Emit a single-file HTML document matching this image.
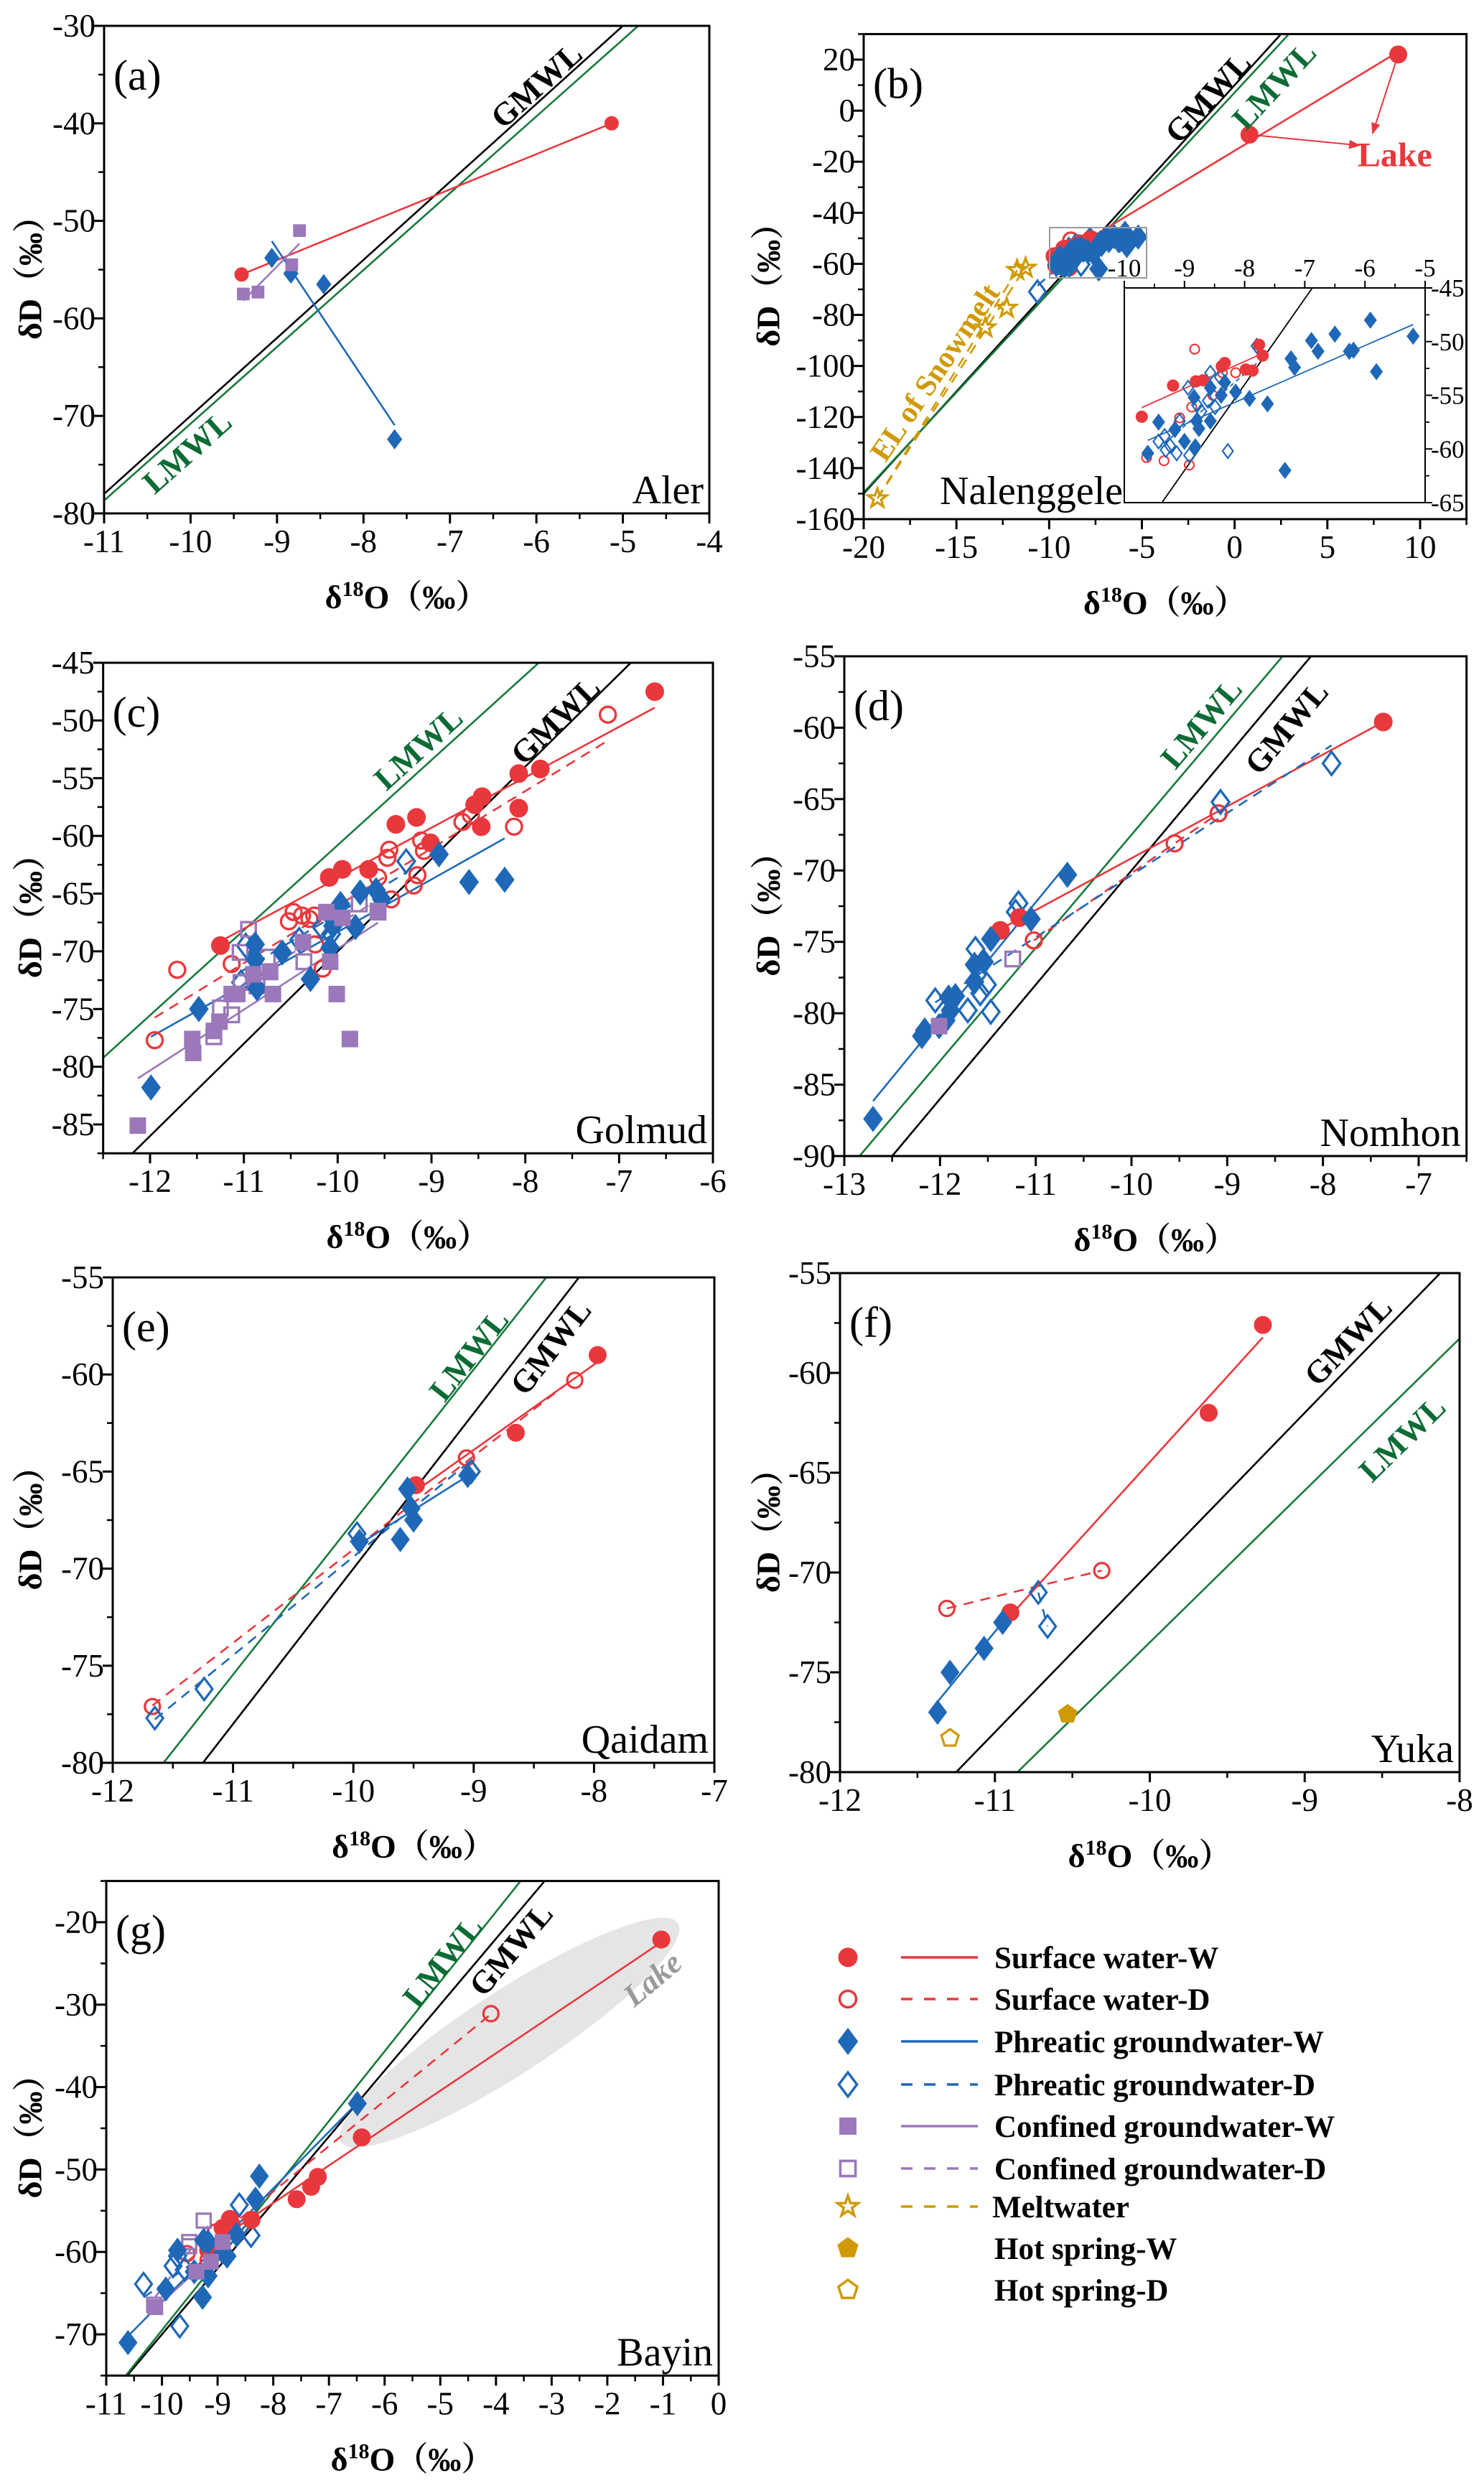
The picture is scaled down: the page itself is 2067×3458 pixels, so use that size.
<!DOCTYPE html>
<html><head><meta charset="utf-8"><title>δD vs δ18O plots</title>
<style>
html,body{margin:0;padding:0;background:#fff;}
svg{display:block;font-family:"Liberation Serif","Noto Serif CJK SC",serif;}
</style></head>
<body>
<svg id="fig" xmlns="http://www.w3.org/2000/svg" width="2067" height="3458" viewBox="0 0 2067 3458">
<defs>
<marker id="arrowRed" viewBox="0 0 10 10" refX="9" refY="5" markerWidth="8" markerHeight="8" orient="auto"><path d="M0,1 L10,5 L0,9 z" fill="#e8383d"/></marker>
</defs>
<rect x="0" y="0" width="2067" height="3458" fill="#fff"/>
</svg>
<script>
// ===================== DATA =====================
const aSurfW=[[-9.41,-55.5],[-5.13,-40.0]];
const aPhrW=[[-9.06,-53.8],[-8.84,-55.4],[-8.46,-56.5],[-7.64,-72.4]];
const aConW=[[-9.39,-57.5],[-9.22,-57.3],[-8.83,-54.5],[-8.74,-51.0]];
const bSurfW=[[-9.71,-57.0],[-9.19,-54.1],[-8.81,-53.7],[-8.38,-52.3],[-8.33,-52.0],[-7.98,-52.6],[-7.87,-52.7],[-7.76,-50.3],[-7.70,-51.3],[-8.69,-53.6],[0.8,-9.4],[8.82,22.0]];
const bSurfD=[[-8.83,-50.7],[-9.63,-60.8],[-9.34,-61.1],[-8.92,-61.5],[-8.15,-52.9],[-8.37,-52.9],[-9.08,-57.1],[-8.88,-56.1],[-8.53,-55.0]];
const bPhrW=[[-9.61,-60.4],[-9.43,-57.5],[-9.16,-58.2],[-9.0,-59.3],[-8.82,-59.8],[-8.80,-57.4],[-8.84,-55.2],[-8.57,-54.3],[-8.39,-55.0],[-8.57,-57.4],[-8.76,-58.1],[-8.15,-54.7],[-7.92,-55.3],[-7.62,-55.8],[-7.23,-51.6],[-7.17,-52.4],[-6.89,-49.9],[-6.78,-50.9],[-6.50,-49.3],[-6.26,-50.9],[-6.19,-50.8],[-5.91,-48.0],[-5.81,-52.8],[-5.20,-49.5],[-7.33,-62.0],[-8.33,-53.8]];
const bPhrD=[[-9.33,-58.8],[-9.43,-59.3],[-9.24,-59.7],[-9.13,-60.4],[-8.92,-60.6],[-8.94,-54.3],[-9.08,-57.4],[-8.79,-55.9],[-8.57,-52.9],[-8.41,-53.3],[-8.28,-60.2],[-7.80,-50.4],[-8.49,-56.1],[-8.72,-56.5],[-9.31,-60.1],[-8.61,-55.5],[-10.63,-70.9]];
const bMelt=[[-19.26,-151.9],[-13.44,-85.0],[-12.29,-77.3],[-11.73,-62.5],[-11.27,-61.6]];
const cSurfW=[[-11.25,-69.5],[-10.09,-63.6],[-9.95,-62.9],[-9.67,-62.9],[-9.38,-59.0],[-9.16,-58.4],[-9.01,-60.6],[-8.54,-57.3],[-8.46,-56.6],[-8.47,-59.2],[-8.07,-54.6],[-7.84,-54.2],[-8.07,-57.6],[-6.62,-47.5]];
const cSurfD=[[-11.71,-71.6],[-11.95,-77.7],[-11.13,-71.1],[-10.52,-67.4],[-10.47,-66.6],[-10.38,-66.9],[-10.30,-67.2],[-10.25,-66.9],[-10.24,-69.4],[-10.16,-71.5],[-9.57,-63.6],[-9.47,-61.9],[-9.45,-61.2],[-9.43,-65.5],[-9.19,-64.3],[-9.15,-63.4],[-9.11,-60.4],[-9.08,-61.3],[-8.67,-58.8],[-8.58,-58.2],[-8.12,-59.2],[-7.12,-49.5]];
const cPhrW=[[-11.99,-81.8],[-11.48,-75.0],[-10.88,-69.4],[-10.86,-73.2],[-10.88,-70.7],[-10.59,-70.1],[-10.29,-72.4],[-10.08,-69.7],[-10.05,-67.8],[-9.97,-65.9],[-9.81,-67.9],[-9.76,-64.9],[-9.59,-64.7],[-9.53,-65.5],[-8.92,-61.6],[-8.60,-64.0],[-8.22,-63.8]];
const cPhrD=[[-10.98,-69.5],[-10.41,-69.0],[-10.17,-67.9],[-9.27,-62.2],[-10.07,-68.5],[-11.03,-72.7]];
const cConW=[[-12.13,-85.1],[-11.55,-77.6],[-11.54,-78.8],[-11.32,-76.9],[-11.26,-76.1],[-11.13,-73.7],[-11.07,-73.7],[-10.90,-72.0],[-10.72,-71.8],[-10.69,-73.7],[-10.37,-69.2],[-10.12,-66.6],[-10.08,-70.9],[-10.01,-73.7],[-9.95,-67.1],[-9.87,-77.6],[-9.57,-66.5]];
const cConD=[[-10.95,-68.1],[-11.04,-70.1],[-11.32,-77.4],[-11.13,-75.5],[-11.03,-72.7],[-10.86,-73.0],[-10.75,-70.5],[-10.36,-70.9],[-9.77,-65.9],[-9.57,-66.6],[-11.25,-74.9]];
const dSurfW=[[-11.37,-74.2],[-11.17,-73.3],[-7.37,-59.6]];
const dSurfD=[[-11.02,-74.9],[-9.55,-68.1],[-9.09,-66.0]];
const dPhrW=[[-12.70,-87.4],[-12.19,-81.6],[-12.16,-81.2],[-11.91,-78.9],[-11.84,-78.8],[-11.89,-79.8],[-11.94,-80.5],[-11.64,-77.8],[-11.64,-76.6],[-11.54,-76.4],[-11.47,-74.8],[-11.05,-73.4],[-10.67,-70.3],[-12.01,-80.9]];
const dPhrD=[[-12.05,-79.1],[-11.63,-75.5],[-11.71,-79.8],[-11.58,-78.6],[-11.51,-78.0],[-11.47,-79.9],[-11.18,-72.3],[-11.21,-72.9],[-9.07,-65.2],[-7.91,-62.5]];
const dConW=[[-12.01,-80.9]];
const dConD=[[-11.24,-76.2]];
const eSurfW=[[-9.48,-65.7],[-8.65,-63.0],[-7.97,-59.0]];
const eSurfD=[[-11.67,-77.1],[-9.06,-64.3],[-8.16,-60.3]];
const ePhrW=[[-9.95,-68.6],[-9.61,-68.5],[-9.55,-65.9],[-9.52,-66.9],[-9.50,-67.5],[-9.05,-65.2]];
const ePhrD=[[-11.65,-77.7],[-11.24,-76.2],[-9.97,-68.2],[-9.02,-65.0]];
const fSurfW=[[-10.90,-72.0],[-9.62,-62.0],[-9.27,-57.6]];
const fSurfD=[[-11.31,-71.8],[-10.31,-69.9]];
const fPhrW=[[-11.37,-77.0],[-11.29,-75.0],[-11.07,-73.8],[-10.95,-72.5]];
const fPhrD=[[-10.72,-71.0],[-10.66,-72.7]];
const fHotW=[[-10.53,-77.1]];
const fHotD=[[-11.29,-78.3]];
const gSurfW=[[-1.03,-22.1],[-6.41,-46.1],[-7.2,-50.9],[-7.32,-52.1],[-7.58,-53.6],[-8.39,-56.1],[-8.78,-56.0],[-8.91,-57.1],[-9.17,-59.8]];
const gSurfD=[[-4.09,-31.1],[-9.04,-57.6],[-8.74,-56.7],[-9.55,-60.2],[-9.17,-61.0]];
const gPhrW=[[-6.49,-42.0],[-8.25,-50.8],[-8.32,-53.6],[-10.61,-71.0],[-9.93,-64.5],[-9.72,-59.8],[-9.27,-65.5],[-9.17,-62.9],[-8.83,-60.5],[-8.91,-60.0],[-9.17,-58.8],[-8.66,-57.9],[-9.42,-62.4],[-9.25,-58.6]];
const gPhrD=[[-10.33,-63.9],[-9.80,-61.7],[-9.72,-60.5],[-9.59,-62.1],[-9.68,-69.0],[-8.61,-54.3],[-8.40,-58.0]];
const gConW=[[-10.12,-66.7],[-9.38,-62.4],[-8.91,-58.8],[-9.12,-61.2]];
const gConD=[[-9.25,-56.2],[-9.51,-58.8],[-9.51,-59.3],[-9.17,-59.3],[-10.14,-66.4]];
const gmwl=[8,10];
const lmwlSlope=[7.88,7.83,7.37,7.92,7.86,7.61,8.46];
const lmwlIntercept=[8.0,7.1,12.9,11.7,11.0,2.6,15.1];
const aXT=[-11,-10,-9,-8,-7,-6,-5,-4], aYT=[-80,-70,-60,-50,-40,-30];
const bXT=[-20,-15,-10,-5,0,5,10], bYT=[-160,-140,-120,-100,-80,-60,-40,-20,0,20];
const cXT=[-12,-11,-10,-9,-8,-7,-6], cYT=[-85,-80,-75,-70,-65,-60,-55,-50,-45];
const dXT=[-13,-12,-11,-10,-9,-8,-7], dYT=[-90,-85,-80,-75,-70,-65,-60,-55];
const eXT=[-12,-11,-10,-9,-8,-7], eYT=[-80,-75,-70,-65,-60,-55];
const fXT=[-12,-11,-10,-9,-8], fYT=[-80,-75,-70,-65,-60,-55];
const gXT=[-11,-10,-9,-8,-7,-6,-5,-4,-3,-2,-1,0], gYT=[-70,-60,-50,-40,-30,-20];
const insXT=[-10,-9,-8,-7,-6,-5], insYT=[-65,-60,-55,-50,-45];
const legendLabels=["Surface water-W","Surface water-D","Phreatic groundwater-W","Phreatic groundwater-D","Confined groundwater-W","Confined groundwater-D","Meltwater","Hot spring-W","Hot spring-D"];
const legendKinds=["surfW","surfD","phrW","phrD","conW","conD","melt","hotW","hotD"];

// ===================== RENDERING =====================
const NS="http://www.w3.org/2000/svg";
const svg=document.getElementById("fig");
const RED="#e8383d",BLUE="#1f68b8",PURP="#9a78b9",GOLD="#cf9a05",GREEN="#167a3c",GREENT="#0d6b35";
const STY={
 surfW:{shape:"circle",fill:true,color:RED,dash:false},
 surfD:{shape:"circle",fill:false,color:RED,dash:true},
 phrW:{shape:"diamond",fill:true,color:BLUE,dash:false},
 phrD:{shape:"diamond",fill:false,color:BLUE,dash:true},
 conW:{shape:"square",fill:true,color:PURP,dash:false},
 conD:{shape:"square",fill:false,color:PURP,dash:true},
 melt:{shape:"star",fill:false,color:GOLD,dash:true},
 hotW:{shape:"pent",fill:true,color:GOLD,dash:false},
 hotD:{shape:"pent",fill:false,color:GOLD,dash:false}
};
function mk(tag,parent){const e=document.createElementNS(NS,tag);parent.appendChild(e);return e;}
function at(e,o){for(const k in o)e.setAttribute(k,o[k]);return e;}
let clipId=0;
function setup(p){
 const sx=(p.xb[1]-p.xa[1])/(p.xb[0]-p.xa[0]);
 const sy=(p.yb[1]-p.ya[1])/(p.yb[0]-p.ya[0]);
 p.sx=sx;p.sy=sy;
 p.X=v=>p.xa[1]+(v-p.xa[0])*sx;
 p.Y=v=>p.ya[1]+(v-p.ya[0])*sy;
 p.L=p.X(p.xr[0]);p.R=p.X(p.xr[1]);p.T=p.Y(p.yr[1]);p.B=p.Y(p.yr[0]);
}
function shapePath(shape,cx,cy,s){
 if(shape==="diamond"){const w=s*1.05,h=s*1.4;return `M${cx},${cy-h}L${cx+w},${cy}L${cx},${cy+h}L${cx-w},${cy}Z`;}
 if(shape==="square"){const h=s*0.88;return `M${cx-h},${cy-h}H${cx+h}V${cy+h}H${cx-h}Z`;}
 if(shape==="star"){let d="";for(let i=0;i<10;i++){const r=i%2?s*0.5:s*1.25;const a=-Math.PI/2+i*Math.PI/5;d+=(i?"L":"M")+(cx+r*Math.cos(a)).toFixed(1)+","+(cy+r*Math.sin(a)).toFixed(1);}return d+"Z";}
 if(shape==="pent"){let d="";for(let i=0;i<5;i++){const a=-Math.PI/2+i*2*Math.PI/5;d+=(i?"L":"M")+(cx+s*1.15*Math.cos(a)).toFixed(1)+","+(cy+s*1.15*Math.sin(a)).toFixed(1);}return d+"Z";}
 return null;
}
function marker(parent,kind,cx,cy,s){
 const st=STY[kind];let e;
 if(st.shape==="circle"){e=mk("circle",parent);at(e,{cx:cx,cy:cy,r:st.fill?s:s-1.5});}
 else{e=mk("path",parent);at(e,{d:shapePath(st.shape,cx,cy,st.fill?s:s-1)});}
 if(st.fill) at(e,{fill:st.color,stroke:st.color,"stroke-width":1});
 else at(e,{fill:"none",stroke:st.color,"stroke-width":Math.max(2,s*0.27)});
 return e;
}
function fitLine(pts){
 const n=pts.length;let mx=0,my=0;pts.forEach(p=>{mx+=p[0];my+=p[1];});mx/=n;my/=n;
 let sxy=0,sxx=0;pts.forEach(p=>{sxy+=(p[0]-mx)*(p[1]-my);sxx+=(p[0]-mx)*(p[0]-mx);});
 const m=sxx?sxy/sxx:0;return [m,my-m*mx];
}
function clipFor(p,parent){
 const id="clip"+(clipId++);
 const cp=mk("clipPath",parent);at(cp,{id:id});
 const r=mk("rect",cp);at(r,{x:p.L,y:p.T,width:p.R-p.L,height:p.B-p.T});
 return id;
}
function txt(parent,x,y,s,o){const t=mk("text",parent);at(t,{x:x,y:y});t.textContent=s;if(o)at(t,o);return t;}
function drawContent(p,g,series,idx,msize,opts){
 opts=opts||{};
 const cid=clipFor(p,g);
 const cg=mk("g",g);at(cg,{"clip-path":`url(#${cid})`});
 
 
 if(p.ellipse){
  const el=mk("ellipse",cg);
  const c=[p.X(p.ellipse[0]),p.Y(p.ellipse[1])];
  at(el,{cx:c[0],cy:c[1],rx:p.ellipse[2],ry:p.ellipse[3],fill:"#e5e5e5",transform:`rotate(${p.ellipse[4]},${c[0]},${c[1]})`});
  
  
 }
 const lines=[["gmwl",gmwl[0],gmwl[1],"#000"]];
 if(!opts.noLMWL) lines.push(["lmwl",lmwlSlope[idx],lmwlIntercept[idx],GREEN]);
 lines.forEach(l=>{
  const x1=p.xr[0]-2,x2=p.xr[1]+2;
  const ln=mk("line",cg);
  at(ln,{x1:p.X(x1),y1:p.Y(l[1]*x1+l[2]),x2:p.X(x2),y2:p.Y(l[1]*x2+l[2]),stroke:l[3],"stroke-width":opts.thin?1.8:2.6});
  
  
 });
 series.forEach(s=>{
  let pts=s.data;
  if(opts.inRange) pts=pts.filter(q=>q[0]>=p.xr[0]&&q[0]<=p.xr[1]&&q[1]>=p.yr[0]&&q[1]<=p.yr[1]);
  if(s.fit===false||pts.length<2) return;
  const f=fitLine(pts);
  let xs=pts.map(q=>q[0]);const x1=Math.min(...xs),x2=Math.max(...xs);
  const st=STY[s.kind];
  const ln=mk("line",cg);
  at(ln,{x1:p.X(x1),y1:p.Y(f[0]*x1+f[1]),x2:p.X(x2),y2:p.Y(f[0]*x2+f[1]),stroke:st.color,"stroke-width":opts.thin?1.8:2.6});
  if(st.dash) at(ln,{"stroke-dasharray":opts.thin?"6,5":"14,10"});
  
  
 });
 if(p.id==="panel-b"){
  const a=bMelt[0],b=bMelt[3];
  const ln=mk("line",cg);
  at(ln,{x1:p.X(a[0]),y1:p.Y(a[1]),x2:p.X(b[0]),y2:p.Y(b[1]),stroke:GOLD,"stroke-width":2.6,"stroke-dasharray":"14,10"});
  
  
 }
 const order=series.slice().sort((a,b)=>(STY[a.kind].fill?1:0)-(STY[b.kind].fill?1:0));
 order.forEach(s=>{
  const mg=mk("g",cg);
  
  
  s.data.forEach(q=>{
   const m=marker(mg,s.kind,p.X(q[0]),p.Y(q[1]),msize);
   
   
  });
 });
 return cg;
}
function minors(ticks,lo,hi){
 const st=ticks[1]-ticks[0];const out=[];
 ticks.forEach(t=>{[t-st/2,t+st/2].forEach(m=>{if(m>=lo-1e-9&&m<=hi+1e-9&&!out.includes(m)&&!ticks.includes(m))out.push(m);});});
 return out;
}
function drawAxes(p,g,xt,yt){
 const frame=mk("rect",g);
 at(frame,{x:p.L,y:p.T,width:p.R-p.L,height:p.B-p.T,fill:"none",stroke:"#000","stroke-width":3});
 
 
 const ax=mk("g",g);
 
 
 xt.forEach(t=>{
  const x=p.X(t);
  at(mk("line",ax),{x1:x,y1:p.B,x2:x,y2:p.B+14,stroke:"#000","stroke-width":3});
  const lb=txt(ax,x,p.B+54,String(t),{"text-anchor":"middle","font-size":45});
  
  
 });
 minors(xt,p.xr[0],p.xr[1]).forEach(t=>{const x=p.X(t);at(mk("line",ax),{x1:x,y1:p.B,x2:x,y2:p.B+8,stroke:"#000","stroke-width":2.5});});
 const ay=mk("g",g);
 
 
 yt.forEach(t=>{
  const y=p.Y(t);
  at(mk("line",ay),{x1:p.L-14,y1:y,x2:p.L,y2:y,stroke:"#000","stroke-width":3});
  const lb=txt(ay,p.L-12,y+15,String(t),{"text-anchor":"end","font-size":45});
  
  
 });
 minors(yt,p.yr[0],p.yr[1]).forEach(t=>{const y=p.Y(t);at(mk("line",ay),{x1:p.L-8,y1:y,x2:p.L,y2:y,stroke:"#000","stroke-width":2.5});});
 const xtl=mk("text",g);
 at(xtl,{x:(p.L+p.R)/2,y:p.B+132,"text-anchor":"middle","font-size":46,"font-weight":"bold"});
 const t1=mk("tspan",xtl);t1.textContent="δ";
 const t2=mk("tspan",xtl);at(t2,{dy:-17,"font-size":30});t2.textContent="18";
 const t3=mk("tspan",xtl);at(t3,{dy:17});t3.textContent="O（‰）";
 
 
 const yc=(p.T+p.B)/2;
 const ytl=txt(g,p.ytx,yc,"δD（‰）",{"text-anchor":"middle","font-size":46,"font-weight":"bold",transform:`rotate(-90,${p.ytx},${yc})`,"dominant-baseline":"central"});
 
 
}
function drawLabels(p,g,idx){
 const lt=txt(g,p.L+13,p.T+89,p.letter,{"font-size":60});
 
 
 const st=p.siteXY?txt(g,p.siteXY[0],p.siteXY[1],p.site,{"font-size":56,"text-anchor":"end"}):txt(g,p.R-8,p.B-14,p.site,{"font-size":56,"text-anchor":"end"});
 
 
 const mw=[["GMWL",gmwl[0],p.gm,"#000"],["LMWL",lmwlSlope[idx],p.lm,GREENT]];
 mw.forEach(m=>{
  const ang=-Math.atan(m[1]*(-p.sy)/p.sx)*180/Math.PI;
  const x=p.X(m[2][0]),y=p.Y(m[2][1]);
  const t=txt(g,x,y,m[0],{"text-anchor":"middle","dominant-baseline":"central","font-size":45,"font-weight":"bold",fill:m[3],transform:`rotate(${ang},${x},${y})`});
  
  
 });
}
const panels=[
 {id:"panel-a",letter:"(a)",site:"Aler",xa:[-11,145],xb:[-4,988],ya:[-30,36],yb:[-80,715],xr:[-11,-4],yr:[-80,-30],ytx:42,gm:[-6.0,-36.1],lm:[-10.04,-73.7],ms:9.5,
  series:[{data:aSurfW,kind:"surfW"},{data:aPhrW,kind:"phrW"},{data:aConW,kind:"conW"}],xt:aXT,yt:aYT},
 {id:"panel-b",letter:"(b)",site:"Nalenggele",siteXY:[1564,702],xa:[-20,1203],xb:[10,1978],ya:[20,83],yb:[-160,723],xr:[-20,12.5],yr:[-160,30],ytx:1070,gm:[-1.44,5.2],lm:[2.13,9.8],ms:12,
  series:[{data:bSurfW,kind:"surfW"},{data:bSurfD,kind:"surfD",fit:false},{data:bPhrW,kind:"phrW"},{data:bPhrD,kind:"phrD"},{data:bMelt,kind:"melt"}],xt:bXT,yt:bYT},
 {id:"panel-c",letter:"(c)",site:"Golmud",xa:[-12,209],xb:[-6,993],ya:[-45,923],yb:[-85,1566],xr:[-12.5,-6],yr:[-87.5,-45],ytx:42,gm:[-7.68,-50.0],lm:[-9.14,-52.4],ms:12.5,
  series:[{data:cSurfW,kind:"surfW"},{data:cSurfD,kind:"surfD"},{data:cPhrW,kind:"phrW"},{data:cPhrD,kind:"phrD"},{data:cConW,kind:"conW"},{data:cConD,kind:"conD"}],xt:cXT,yt:cYT},
 {id:"panel-d",letter:"(d)",site:"Nomhon",xa:[-13,1176],xb:[-7,1976],ya:[-55,914],yb:[-90,1610],xr:[-13,-6.5],yr:[-90,-55],ytx:1070,gm:[-8.38,-60.0],lm:[-9.27,-59.7],ms:12.5,
  series:[{data:dSurfW,kind:"surfW"},{data:dSurfD,kind:"surfD"},{data:dPhrW,kind:"phrW"},{data:dPhrD,kind:"phrD"},{data:dConW,kind:"conW",fit:false},{data:dConD,kind:"conD",fit:false}],xt:dXT,yt:dYT},
 {id:"panel-e",letter:"(e)",site:"Qaidam",xa:[-12,157],xb:[-7,995],ya:[-55,1779],yb:[-80,2455],xr:[-12,-7],yr:[-80,-55],ytx:42,gm:[-8.36,-58.6],lm:[-9.04,-59.0],ms:12,
  series:[{data:eSurfW,kind:"surfW"},{data:eSurfD,kind:"surfD"},{data:ePhrW,kind:"phrW"},{data:ePhrD,kind:"phrD"}],xt:eXT,yt:eYT},
 {id:"panel-f",letter:"(f)",site:"Yuka",xa:[-12,1170],xb:[-8,2033],ya:[-55,1773],yb:[-80,2468],xr:[-12,-8],yr:[-80,-55],ytx:1070,gm:[-8.72,-58.4],lm:[-8.37,-63.3],ms:12,
  series:[{data:fSurfW,kind:"surfW"},{data:fSurfD,kind:"surfD"},{data:fPhrW,kind:"phrW"},{data:fPhrD,kind:"phrD"},{data:fHotW,kind:"hotW",fit:false},{data:fHotD,kind:"hotD",fit:false}],xt:fXT,yt:fYT},
 {id:"panel-g",letter:"(g)",site:"Bayin",xa:[-11,148],xb:[0,1001],ya:[-20,2677],yb:[-70,3251],xr:[-11,0],yr:[-75,-15],ytx:42,gm:[-3.73,-23.3],lm:[-4.96,-24.8],ms:12,
  ellipse:[-3.76,-33.4,280,58,-33],
  series:[{data:gSurfW,kind:"surfW"},{data:gSurfD,kind:"surfD"},{data:gPhrW,kind:"phrW"},{data:gPhrD,kind:"phrD"},{data:gConW,kind:"conW"},{data:gConD,kind:"conD"}],xt:gXT,yt:gYT}
];
panels.forEach((p,idx)=>{
 setup(p);
 const g=mk("g",svg);
 
 
 drawContent(p,g,p.series,idx,p.ms);
 drawAxes(p,g,p.xt,p.yt);
 drawLabels(p,g,idx);
 if(p.id==="panel-b"){
  const l1=p.X(8.82),l1y=p.Y(22),l2=p.X(0.8),l2y=p.Y(-9.4);
  const a1=mk("line",g);at(a1,{x1:l1,y1:l1y,x2:p.X(7.44),y2:p.Y(-8.9),stroke:RED,"stroke-width":2,"marker-end":"url(#arrowRed)"});
  
  
  const a2=mk("line",g);at(a2,{x1:l2,y1:l2y,x2:p.X(6.73),y2:p.Y(-13.6),stroke:RED,"stroke-width":2,"marker-end":"url(#arrowRed)"});
  
  
  const lk=txt(g,p.X(8.64),p.Y(-17.5)+15,"Lake",{"text-anchor":"middle","font-size":48,"font-weight":"bold",fill:RED});
  
  
  const el=txt(g,1303,519,"EL of Snowmelt",{"text-anchor":"middle","dominant-baseline":"central","font-size":42,"font-weight":"bold",fill:GOLD,transform:"rotate(-56,1303,519)"});
  
  
  const zb=mk("rect",g);at(zb,{x:1462,y:317,width:135,height:70,fill:"none",stroke:"#999","stroke-width":2});
  
  
  const ins={id:"inset",xa:[-10,1566],xb:[-5,1985],ya:[-45,401],yb:[-65,700],xr:[-10,-5],yr:[-65,-45]};
  setup(ins);
  const ig=mk("g",g);
  
  
  at(mk("rect",ig),{x:ins.L,y:ins.T,width:ins.R-ins.L,height:ins.B-ins.T,fill:"#fff"});
  drawContent(ins,ig,[{data:bSurfW,kind:"surfW"},{data:bSurfD,kind:"surfD",fit:false},{data:bPhrW,kind:"phrW"},{data:bPhrD,kind:"phrD"}],1,8,{noLMWL:true,thin:true,inRange:true});
  const fr=mk("rect",ig);at(fr,{x:ins.L,y:ins.T,width:ins.R-ins.L,height:ins.B-ins.T,fill:"none",stroke:"#000","stroke-width":2});
  
  
  insXT.forEach(t=>{const x=ins.X(t);at(mk("line",ig),{x1:x,y1:ins.T,x2:x,y2:ins.T-10,stroke:"#000","stroke-width":2});
   const lb=txt(ig,x,ins.T-16,String(t),{"text-anchor":"middle","font-size":35});
   
   });
  minors(insXT,-10,-5).forEach(t=>{const x=ins.X(t);at(mk("line",ig),{x1:x,y1:ins.T,x2:x,y2:ins.T-6,stroke:"#000","stroke-width":1.8});});
  insYT.forEach(t=>{const y=ins.Y(t);at(mk("line",ig),{x1:ins.R,y1:y,x2:ins.R+10,y2:y,stroke:"#000","stroke-width":2});
   const lb=txt(ig,ins.R+8,y+12,String(t),{"font-size":35});
   
   });
  minors(insYT,-65,-45).forEach(t=>{const y=ins.Y(t);at(mk("line",ig),{x1:ins.R,y1:y,x2:ins.R+6,y2:y,stroke:"#000","stroke-width":1.8});});
 }
 if(p.id==="panel-g"){
  const x=p.X(-1.19),y=p.Y(-26.9);
  const lk=txt(g,x,y,"Lake",{"text-anchor":"middle","dominant-baseline":"central","font-size":44,"font-weight":"bold","font-style":"italic",fill:"#999",transform:`rotate(-40,${x},${y})`});
  
  
 }
});
const lg=mk("g",svg);


const legendY=[2726,2784,2843,2903,2961,3020,3073,3131,3189];
legendLabels.forEach((lab,i)=>{
 const y=legendY[i];const k=legendKinds[i];const st=STY[k];
 const eg=mk("g",lg);
 
 
 marker(eg,k,1181,y,13);
 if(k!=="hotW"&&k!=="hotD"){
  const ln=mk("line",eg);at(ln,{x1:1255,y1:y,x2:1362,y2:y,stroke:st.color,"stroke-width":3.5});
  if(st.dash) at(ln,{"stroke-dasharray":"16,16"});
 }
 txt(eg,k==="melt"?1382:1385,y+15,lab,{"font-size":43,"font-weight":"bold"});
});
</script>
</body></html>
